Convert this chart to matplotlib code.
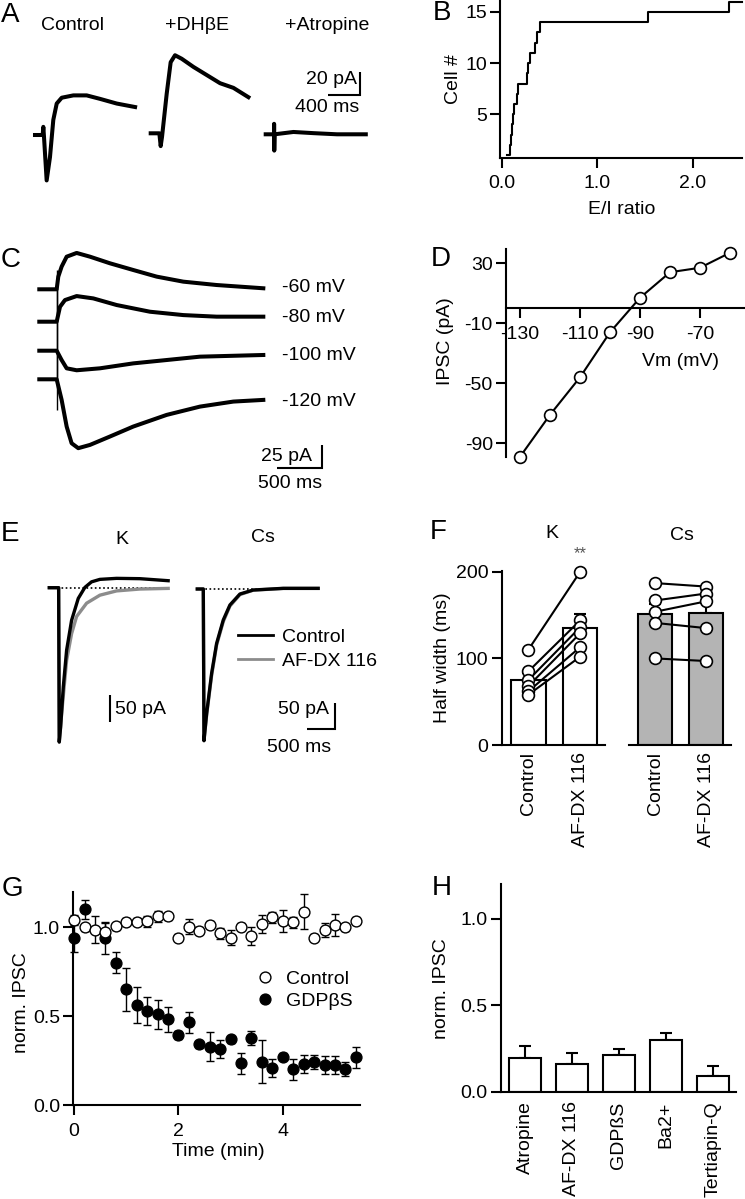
import matplotlib
matplotlib.use("Agg")
import matplotlib.pyplot as plt
from matplotlib.lines import Line2D
import numpy as np

plt.rcParams["font.family"] = ["Liberation Sans", "DejaVu Sans"]
plt.rcParams["font.size"] = 14
plt.rcParams["axes.unicode_minus"] = False

W, H = 745, 1199

# ---------------- data ----------------
# A: example IPSCs, time (ms) / current (pA), key points of each trace
a_ctrl_t = [0, 97, 105, 113, 147, 189, 231, 274, 337, 484, 652, 821, 1031, 1263]
a_ctrl_i = [0, 0, 7, -1, -39, -19, 13, 27, 32, 34, 34, 31, 27, 24]
a_dhbe_t = [0, 109, 126, 143, 202, 252, 307, 391, 539, 707, 875, 1044, 1233]
a_dhbe_i = [0, 0, -11, -3, 34, 61, 67, 64, 57, 50, 43, 39, 31]
a_atro_t = [0, 105, 106, 108, 112, 350, 600, 900, 1263]
a_atro_i = [0, 0, 9, -14, 0, 2, 1, 0, 0]
a_titles = ["Control", "+DH\u03b2E", "+Atropine"]

# B: cumulative E/I ratios
b_ratio = [0.058, 0.084, 0.094, 0.108, 0.118, 0.125, 0.154, 0.171, 0.258,
           0.276, 0.293, 0.346, 0.370, 0.398, 1.53, 2.38]
b_cell = list(range(1, 17))

# C: IPSCs at different holding potentials
c_labels = ["-60 mV", "-80 mV", "-100 mV", "-120 mV"]
c60_t = [0, 193, 211, 248, 304, 415, 563, 785, 1044, 1304, 1600, 1970, 2489]
c60_i = [0, 0, 13.6, 24.3, 35, 39, 35, 27.9, 20.7, 13.6, 8.2, 4.6, 1.1]
c80_t = [0, 193, 230, 285, 415, 600, 859, 1230, 1600, 1970, 2489]
c80_i = [0, 0, 16, 23.2, 27.5, 25, 17.9, 10.7, 7.1, 5.4, 5.4]
c100_t = [0, 193, 248, 304, 415, 674, 1044, 1415, 1785, 2489]
c100_i = [0, 0, -10, -18.9, -21, -18.9, -13.6, -10, -6.4, -4.6]
c120_t = [0, 193, 248, 304, 359, 433, 563, 785, 1044, 1415, 1785, 2156, 2489]
c120_i = [0, 0, -22, -50.7, -68.6, -73.9, -70.4, -61.4, -50.7, -38.2, -29.3, -23.9, -22.1]
c_art_hi = [20.7, 35, 31, 31]
c_art_lo = [-35, -31, -31, -33]

# D: I-V relation
d_vm = [-130, -120, -110, -100, -90, -80, -70, -60]
d_ipsc = [-99, -71, -46, -16, 7, 24, 27, 37]

# E: K and Cs internal, control vs AF-DX 116
ek_ctrl_t = [0, 165, 176, 200, 247, 306, 394, 512, 629, 747, 894, 1188, 1600, 2100]
ek_ctrl_i = [0, 0, -289, -261, -186, -117, -61, -20, 0.6, 11, 15.6, 17.5, 16.9, 13.1]
ek_afdx_t = [0, 165, 176, 218, 306, 394, 482, 659, 894, 1188, 1600, 2100]
ek_afdx_i = [0, 0, -289, -236, -136, -86, -54, -29, -14, -6, -2.5, -1.3]
ecs_ctrl_t = [0, 106, 118, 165, 253, 341, 459, 576, 753, 988, 1518, 2135]
ecs_ctrl_i = [0, 0, -284, -233, -158, -102, -58, -30, -9.4, -1.9, 1.25, 1.25]
ecs_afdx_t = [0, 106, 118, 165, 253, 341, 459, 576, 753, 988, 1518, 2135]
ecs_afdx_i = [0, 0, -284, -236, -162, -105, -61, -32, -10.5, -2.2, 1.0, 1.0]

# F: half width (ms)
f_conds = ["Control", "AF-DX 116"]
fk_ctrl = [110, 85, 75, 68, 62, 58]
fk_afdx = [200, 144, 136, 129, 113, 102]
fk_mean = [75, 135]
fk_sem = [8, 16]
fcs_ctrl = [187, 167, 154, 141, 100]
fcs_afdx = [183, 175, 166, 135, 97]
fcs_mean = [151, 152]
fcs_sem = [12, 12]

# G: time course
g_time = [0.0, 0.2, 0.4, 0.6, 0.8, 1.0, 1.2, 1.4, 1.6, 1.8, 2.0, 2.2, 2.4, 2.6,
          2.8, 3.0, 3.2, 3.4, 3.6, 3.8, 4.0, 4.2, 4.4, 4.6, 4.8, 5.0, 5.2, 5.4]
g_ctrl = [1.04, 1.00, 0.987, 0.972, 1.006, 1.03, 1.03, 1.034, 1.062, 1.062,
          0.942, 1.004, 0.98, 1.013, 0.966, 0.942, 1.004, 0.951, 1.019, 1.056,
          1.036, 1.028, 1.088, 0.942, 0.985, 1.013, 1.00, 1.036]
g_ctrl_err = [0.03, 0.02, 0.075, 0.05, 0.02, 0.02, 0.02, 0.03, 0.03, 0.02,
              0.02, 0.04, 0.02, 0.02, 0.03, 0.04, 0.02, 0.05, 0.05, 0.03,
              0.06, 0.03, 0.10, 0.02, 0.04, 0.06, 0.02, 0.02]
g_gdp = [0.94, 1.10, np.nan, 0.94, 0.80, 0.651, 0.563, 0.529, 0.510, 0.482,
         0.394, 0.465, 0.341, 0.328, 0.313, 0.370, 0.235, 0.379, 0.244, 0.210,
         0.272, 0.201, 0.229, 0.240, 0.225, 0.225, 0.201, 0.268]
g_gdp_err = [0.08, 0.056, np.nan, 0.09, 0.06, 0.12, 0.10, 0.08, 0.08, 0.07,
             0.02, 0.06, 0.02, 0.08, 0.05, 0.02, 0.06, 0.04, 0.12, 0.05,
             0.02, 0.06, 0.05, 0.04, 0.05, 0.05, 0.04, 0.06]

# H: blockers
h_labels = ["Atropine", "AF-DX 116", "GDP\u00dfS", "Ba2+", "Tertiapin-Q"]
h_mean = [0.196, 0.16, 0.212, 0.298, 0.089]
h_sem = [0.068, 0.061, 0.033, 0.039, 0.059]

# ---------------- figure ----------------
fig = plt.figure(figsize=(W / 100, H / 100), dpi=100)
fig.patch.set_facecolor("white")


def ftxt(x, y, s, **kw):
    kw.setdefault("ha", "center")
    kw.setdefault("va", "center")
    return fig.text(x / W, 1 - y / H, s, **kw)


def trace_ax(x0, y0, sx, sy, box):
    # (x0, y0) is the pixel where data (0, 0) sits; sx, sy in px per unit
    l, t, r, b = box
    ax = fig.add_axes([l / W, 1 - b / H, (r - l) / W, (b - t) / H])
    ax.set_xlim((l - x0) / sx, (r - x0) / sx)
    ax.set_ylim((y0 - b) / sy, (y0 - t) / sy)
    ax.axis("off")
    return ax


def scalebar(x0, y0, sx, sy, dx, dy):
    ax = trace_ax(x0, y0, sx, sy, (x0 - dx * sx - 5, y0 - dy * sy - 5, x0 + 5, y0 + 5))
    ax.plot([-dx, 0, 0], [0, 0, dy], color="k", lw=1.5, solid_capstyle="butt",
            solid_joinstyle="miter")


def panel_ax(box):
    l, t, r, b = box
    ax = fig.add_axes([l / W, 1 - b / H, (r - l) / W, (b - t) / H])
    ax.spines[["top", "right"]].set_visible(False)
    ax.spines[["left", "bottom"]].set_linewidth(1.5)
    ax.tick_params(direction="out", length=7, width=1.5, labelsize=14, pad=2.5)
    ax.patch.set_visible(False)
    return ax


# panel letters
for lab, x, y in [("A", 10, 15), ("B", 442, 13), ("C", 11, 260), ("D", 441, 259),
                  ("E", 10, 534), ("F", 438, 532), ("G", 12, 889), ("H", 442, 888)]:
    ftxt(x, y, lab, fontsize=20)

# ---- A ----
sxA, syA = 31.7 / 400, 23.3 / 20
boxA = (0, 35, 380, 200)
for (t, i), (x0, y0) in zip([(a_ctrl_t, a_ctrl_i), (a_dhbe_t, a_dhbe_i), (a_atro_t, a_atro_i)],
                            [(35, 135), (150.7, 133.3), (265.7, 134.3)]):
    ax = trace_ax(x0, y0, sxA, syA, boxA)
    ax.plot(t, i, color="k", lw=2.9)
for s, x in zip(a_titles, [72, 197, 327]):
    ftxt(x, 25, s)
scalebar(360, 95, sxA, syA, 400, 20)
ftxt(357, 79, "20 pA", ha="right")
ftxt(327, 107, "400 ms")

# ---- B ----
ax = panel_ax((500, 0.5, 741.7, 158))
ax.plot(b_ratio + [2.51], b_cell + [16], drawstyle="steps-post", color="k", lw=1.5,
        clip_on=False)
ax.set_xlim(-0.02, 2.51)
ax.set_ylim(0.73, 16.1)
ax.set_xticks([0, 1, 2], ["0.0", "1.0", "2.0"])
ax.set_yticks([5, 10, 15])
ax.tick_params(axis="x", pad=5)
ftxt(454, 79, "Cell #", rotation=90)
ftxt(622, 210, "E/I ratio")

# ---- C ----
sxC, syC = 45 / 500, 23.3 / 25
boxC = (0, 240, 380, 490)
c_traces = [(c60_t, c60_i), (c80_t, c80_i), (c100_t, c100_i), (c120_t, c120_i)]
for k, ((t, i), y0) in enumerate(zip(c_traces, [289.3, 321.7, 350.7, 379.3])):
    ax = trace_ax(39.3, y0, sxC, syC, boxC)
    ax.plot(t, i, color="k", lw=2.9)
    ax.vlines(200, c_art_lo[k], c_art_hi[k], color="k", lw=1)
for s, y in zip(c_labels, [287, 317, 356, 402]):
    ftxt(282, y, s, ha="left")
scalebar(321.7, 468.3, sxC, syC, 500, 25)
ftxt(312, 456, "25 pA", ha="right")
ftxt(290, 484, "500 ms")

# ---- D ----
ax = panel_ax((506, 249.3, 745, 456.7))
ax.plot(d_vm, d_ipsc, "-o", color="k", lw=1.5, ms=8.5, mfc="white", mec="k",
        mew=1.2, clip_on=False, zorder=3)
ax.spines["bottom"].set_position(("data", 0))
ax.set_xlim(-134.7, -55)
ax.set_ylim(-99, 39.3)
ax.set_xticks([-130, -110, -90, -70])
ax.set_yticks([30, -10, -50, -90])
ax.tick_params(axis="x", pad=6)
ftxt(445.5, 341.5, "IPSC (pA)", rotation=90)
ftxt(681, 361, "Vm (mV)")

# ---- E ----
sxE, syE = 28.3 / 500, 26.7 / 50
boxE = (0, 560, 380, 770)
grey = "#8c8c8c"
for (tc, ic, ta, ia), (x0, y0) in zip(
        [(ek_ctrl_t, ek_ctrl_i, ek_afdx_t, ek_afdx_i),
         (ecs_ctrl_t, ecs_ctrl_i, ecs_afdx_t, ecs_afdx_i)],
        [(49.3, 587.7), (197.3, 589)]):
    ax = trace_ax(x0, y0, sxE, syE, boxE)
    ax.plot([0, tc[-1]], [0, 0], color="k", lw=1.2, ls=(0, (1, 1.5)), zorder=1)
    ax.plot(ta, ia, color=grey, lw=2.4, zorder=2)
    ax.plot(tc, ic, color="k", lw=2.4, zorder=3)
ftxt(122, 540, "K")
ftxt(263, 538, "Cs")
scalebar(110, 721.7, sxE, syE, 0, 50)
ftxt(115, 709, "50 pA", ha="left")
scalebar(335, 729.3, sxE, syE, 500, 50)
ftxt(329, 710, "50 pA", ha="right")
ftxt(299, 748, "500 ms")
fig.legend(handles=[Line2D([], [], color="k", lw=2), Line2D([], [], color=grey, lw=2)],
           labels=["Control", "AF-DX 116"], loc="center left",
           bbox_to_anchor=(238 / W, 1 - 649 / H), bbox_transform=fig.transFigure,
           frameon=False, handlelength=1.8, handletextpad=0.45, labelspacing=0.3,
           borderpad=0, borderaxespad=0, fontsize=14)

# ---- F ----
for box, ctrl, afdx, mean, sem, fc, first in [
        ((501.7, 571, 605, 745), fk_ctrl, fk_afdx, fk_mean, fk_sem, "white", True),
        ((629.3, 571, 730.7, 745), fcs_ctrl, fcs_afdx, fcs_mean, fcs_sem, "#b4b4b4", False)]:
    ax = panel_ax(box)
    ax.bar([0, 1], mean, width=0.67, color=fc, edgecolor="k", lw=1.5, zorder=1)
    ax.errorbar([0, 1], mean, yerr=[[0, 0], sem], fmt="none", ecolor="k",
                elinewidth=1.5, capsize=4, capthick=1.5, zorder=0.5)
    n = len(ctrl)
    ax.plot(np.array([[0] * n, [1] * n]), np.array([ctrl, afdx]), color="k", lw=1.5,
            zorder=3)
    ax.plot([0] * n + [1] * n, ctrl + afdx, "o", ms=8.5, mfc="white", mec="k",
            mew=1.2, clip_on=False, zorder=4)
    ax.set_xlim(-0.514, 1.48)
    ax.set_ylim(0, 201)
    ax.set_xticks([0, 1], f_conds, rotation=90, va="top", ha="center")
    ax.tick_params(axis="x", length=0, pad=5)
    if first:
        ax.set_yticks([0, 100, 200])
    else:
        ax.spines["left"].set_visible(False)
        ax.set_yticks([])
ftxt(552, 533, "K")
ftxt(682, 535, "Cs")
ftxt(580, 554, "**", fontsize=12, color="#555555")
ftxt(442.5, 658, "Half width (ms)", rotation=90)

# ---- G ----
ax = panel_ax((73.3, 891.7, 360, 1105))
ax.errorbar(g_time, g_gdp, yerr=g_gdp_err, fmt="o", ms=7.8, mfc="k", mec="k",
            ecolor="k", elinewidth=1, capsize=3.2, capthick=1, clip_on=False,
            zorder=3, label="GDP\u03b2S")
ax.errorbar(g_time, g_ctrl, yerr=g_ctrl_err, fmt="o", ms=7.8, mfc="white", mec="k",
            mew=1, ecolor="k", elinewidth=1, capsize=3.2, capthick=1, clip_on=False,
            zorder=4, label="Control")
ax.set_xlim(-0.015, 5.48)
ax.set_ylim(0, 1.2)
ax.set_xticks([0, 2, 4])
ax.set_yticks([0, 0.5, 1.0], ["0.0", "0.5", "1.0"])
ax.tick_params(axis="x", pad=6)
hnd = [Line2D([], [], ls="none", marker="o", ms=7.8, mfc="white", mec="k"),
       Line2D([], [], ls="none", marker="o", ms=7.8, mfc="k", mec="k")]
fig.legend(handles=hnd, labels=["Control", "GDP\u03b2S"], loc="center left",
           bbox_to_anchor=(255 / W, 1 - 990 / H), bbox_transform=fig.transFigure,
           frameon=False, handlelength=1, handletextpad=0.6, labelspacing=0.2,
           borderpad=0, borderaxespad=0, fontsize=14)
ftxt(21.7, 1003, "norm. IPSC", rotation=90)
ftxt(218, 1152, "Time (min)")

# ---- H ----
ax = panel_ax((501, 884, 736, 1091.7))
xh = np.arange(len(h_labels))
ax.bar(xh, h_mean, width=0.67, color="white", edgecolor="k", lw=1.5, zorder=2)
ax.errorbar(xh, h_mean, yerr=[[0] * len(xh), h_sem], fmt="none", ecolor="k",
            elinewidth=1.5, capsize=4, capthick=1.5, zorder=1)
ax.set_xlim(-0.51, 4.49)
ax.set_ylim(0, 1.2)
ax.set_yticks([0, 0.5, 1.0], ["0.0", "0.5", "1.0"])
ax.set_xticks(xh, h_labels, rotation=90, va="top", ha="center")
ax.tick_params(axis="x", length=0, pad=7)
ftxt(441.7, 989, "norm. IPSC", rotation=90)

fig.savefig("out.png", dpi=100)
